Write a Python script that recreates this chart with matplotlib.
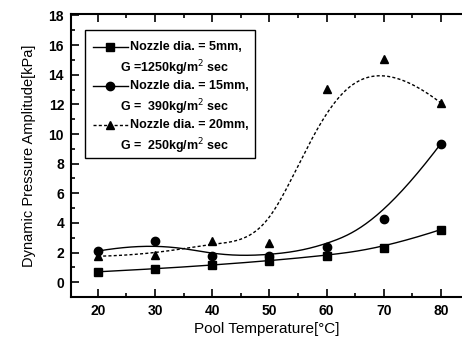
import numpy as np
import matplotlib
matplotlib.use("Agg")
import matplotlib.pyplot as plt
from matplotlib.patches import Rectangle
from matplotlib.ticker import MultipleLocator

plt.rcParams['font.family'] = ['Liberation Sans', 'DejaVu Sans']

temps = [20, 30, 40, 50, 60, 70, 80]
amp_5mm = [0.7, 0.9, 1.15, 1.45, 1.8, 2.3, 3.55]
amp_15mm = [2.1, 2.75, 1.75, 1.8, 2.35, 4.25, 9.35]
amp_20mm = [1.75, 1.85, 2.75, 2.65, 13.05, 15.05, 12.1]

labels_top = ["Nozzle dia. = 5mm,", "Nozzle dia. = 15mm,", "Nozzle dia. = 20mm,"]
labels_bottom = ["G =1250kg/m$^2$ sec", "G =  390kg/m$^2$ sec", "G =  250kg/m$^2$ sec"]


def bspline(xs, ys, n=300):
    # clamped cubic B-spline using the data points as control points
    P = np.column_stack([xs, ys]).astype(float)
    k = 3
    m = len(P)
    knots = np.concatenate([np.zeros(k), np.arange(m - k + 1), np.full(k, m - k)]).astype(float)
    t = np.linspace(0, m - k, n)
    N = np.zeros((n, len(knots) - 1))
    for i in range(len(knots) - 1):
        N[:, i] = (knots[i] <= t) & (t < knots[i + 1])
    N[-1, m - 1] = 1.0
    for d in range(1, k + 1):
        Nn = np.zeros((n, len(knots) - 1 - d))
        for i in range(len(knots) - 1 - d):
            a = knots[i + d] - knots[i]
            b = knots[i + d + 1] - knots[i + 1]
            left = (t - knots[i]) / a * N[:, i] if a > 0 else 0
            right = (knots[i + d + 1] - t) / b * N[:, i + 1] if b > 0 else 0
            Nn[:, i] = left + right
        N = Nn
    C = N[:, :m] @ P
    return C[:, 0], C[:, 1]


fig = plt.figure(figsize=(4.62, 3.56), dpi=100)
ax = fig.add_axes([71 / 462, 59 / 356, 391 / 462, 283 / 356])

styles = [
    (amp_5mm, 's', '-'),
    (amp_15mm, 'o', '-'),
    (amp_20mm, '^', (0, (2.2, 1.6))),
]
for vals, mk, ls in styles:
    cx, cy = bspline(temps, vals)
    ax.plot(cx, cy, color='black', lw=1.0, ls=ls)
    ax.plot(temps, vals, ls='none', marker=mk, color='black', markersize=6)

ax.set_xlim(15.3, 83.7)
ax.set_ylim(-1, 18.1)
ax.xaxis.set_major_locator(MultipleLocator(10))
ax.xaxis.set_minor_locator(MultipleLocator(5))
ax.yaxis.set_major_locator(MultipleLocator(2))
ax.yaxis.set_minor_locator(MultipleLocator(1))
ax.tick_params(which='both', direction='in', top=True, right=False, width=1.2)
ax.tick_params(which='major', length=6, labelsize=10, pad=5)
ax.tick_params(which='minor', length=3)
for lab in ax.get_xticklabels() + ax.get_yticklabels():
    lab.set_fontweight('bold')
for side in ['left', 'bottom', 'top']:
    ax.spines[side].set_linewidth(1.5)
ax.spines['right'].set_visible(False)

ax.set_xlabel('Pool Temperature[°C]', fontsize=11, labelpad=3)
ax.set_ylabel('Dynamic Pressure Amplitude[kPa]', fontsize=10.5, labelpad=9)

# legend drawn by hand so the second text line sits under the first
ax.add_patch(Rectangle((0.036, 0.491), 0.435, 0.452, transform=ax.transAxes,
                       fill=False, lw=1.0, color='black'))
rows_top = [0.883, 0.746, 0.608]
rows_bottom = [0.809, 0.671, 0.534]
for (vals, mk, ls), top, bottom, y1, y2 in zip(styles, labels_top, labels_bottom,
                                               rows_top, rows_bottom):
    ax.plot([0.056, 0.146], [y1, y1], transform=ax.transAxes, color='black',
            lw=1.0, ls=ls)
    ax.plot([0.0997], [y1], transform=ax.transAxes, color='black', marker=mk,
            markersize=6, ls='none')
    ax.text(0.151, y1, top, transform=ax.transAxes, fontsize=9,
            fontweight='bold', va='center', ha='left')
    ax.text(0.266, y2, bottom, transform=ax.transAxes, fontsize=9,
            fontweight='bold', va='center', ha='center')

fig.savefig('out.png', dpi=100)
